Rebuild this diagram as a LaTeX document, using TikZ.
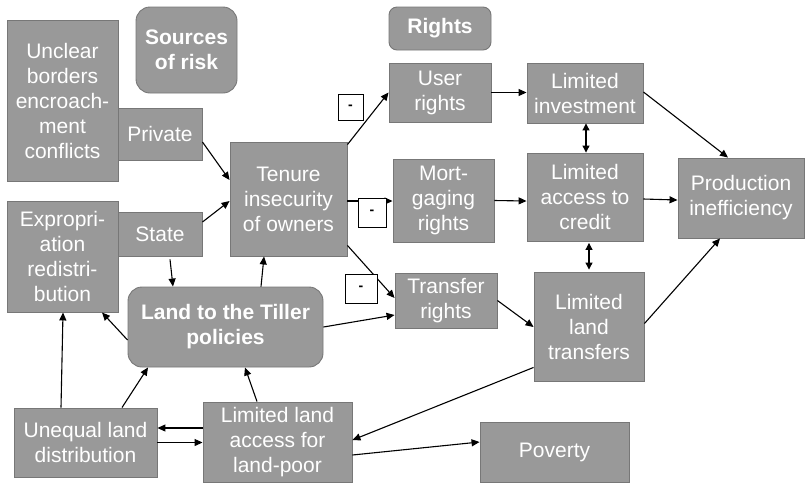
\documentclass[tikz,border=0pt]{standalone}
\usepackage{fontspec}
\setmainfont{Liberation Sans}
\usetikzlibrary{arrows.meta,calc}

\definecolor{boxfill}{HTML}{999999}
\definecolor{boxline}{HTML}{777777}

\tikzset{
  box/.style={draw=boxline, line width=0.9pt, fill=boxfill, text=white,
    align=center, inner sep=0pt, font=\fontsize{21}{25}\selectfont},
  roundbox/.style={box, rounded corners=14pt, font=\fontsize{21}{25}\selectfont\bfseries},
  minusbox/.style={draw=black, line width=0.8pt, fill=white, inner sep=0pt,
    font=\fontsize{14}{14}\selectfont\bfseries},
  arr/.style={line width=1.1pt, -{Triangle[length=8pt,width=7pt]}},
  darr/.style={line width=1.1pt, {Triangle[length=7pt,width=7pt]}-{Triangle[length=7pt,width=7pt]}}
}

\begin{document}
\begin{tikzpicture}[x=1pt,y=-1pt]
\useasboundingbox (0,0) rectangle (805,483);

% left column: sources of risk
\node[box, minimum width=111pt, minimum height=161pt] (unclear) at (62.5,100.5)
  {Unclear\\borders\\encroach-\\ment\\conflicts};
\node[box, minimum width=84pt, minimum height=52pt] (private) at (160,134) {Private};
\node[roundbox, minimum width=101pt, minimum height=86pt] (sources) at (186.5,50) {Sources\\of risk};
\node[box, minimum width=111pt, minimum height=111pt] (expro) at (62.5,256.5)
  {Expropri-\\ation\\redistri-\\bution};
\node[box, minimum width=84pt, minimum height=44pt] (state) at (160,234) {State};
\node[box, minimum width=117pt, minimum height=114pt] (tenure) at (288.5,199)
  {Tenure\\insecurity\\of owners};
\node[roundbox, minimum width=195pt, minimum height=80pt] (tiller) at (225.5,327)
  {Land to the Tiller\\policies};
\node[box, minimum width=143pt, minimum height=69pt] (unequal) at (85.5,442.5)
  {Unequal land\\distribution};
\node[box, minimum width=149pt, minimum height=80pt] (access) at (277.5,442)
  {Limited land\\access for\\land-poor};

% rights
\node[roundbox, rounded corners=8pt, minimum width=102pt, minimum height=43pt] (rights) at (440,28.5) {Rights};
\node[box, minimum width=102pt, minimum height=59pt] (user) at (440,92.5) {User\\rights};
\node[box, minimum width=101pt, minimum height=83pt] (mort) at (443.5,200.5) {Mort-\\gaging\\rights};
\node[box, minimum width=102pt, minimum height=55pt] (transfer) at (446,300.5) {Transfer\\rights};

% consequences
\node[box, minimum width=116pt, minimum height=60pt] (invest) at (585,93) {Limited\\investment};
\node[box, minimum width=116pt, minimum height=88pt] (credit) at (585,197) {Limited\\access to\\credit};
\node[box, minimum width=110pt, minimum height=109pt] (ltransfers) at (589,326.5) {Limited\\land\\transfers};
\node[box, minimum width=126pt, minimum height=80pt] (prod) at (741,198) {Production\\inefficiency};
\node[box, minimum width=149pt, minimum height=60pt] (poverty) at (554.5,452) {Poverty};

% connectors
\draw[arr] ($(private.east)+(0,8)$) -- ($(tenure.west)+(0,-19)$);
\draw[arr] ($(state.east)+(0,-12)$) -- ($(tenure.west)+(0,2)$);
\draw[arr] ($(state.south)+(10,3)$) -- ($(tiller.north)+(-52.5,0)$);
\draw[arr] ($(tiller.north)+(35.5,0)$) -- ($(tenure.south)+(-24.5,0)$);
\draw[arr] ($(tiller.west)+(0,13)$) -- ($(expro.south)+(39.5,0)$);
\draw[arr] ($(unequal.north)+(-24.5,0)$) -- ($(expro.south)+(0.5,0)$);
\draw[arr] ($(unequal.north)+(36.5,0)$) -- ($(tiller.south)+(-77.5,0)$);
\draw[arr] ($(access.north)+(-20.5,0)$) -- ($(tiller.south)+(19.5,0)$);
\draw[arr] ($(access.west)+(0,-14)$) -- ($(unequal.east)+(0,-14.5)$);
\draw[arr] ($(unequal.east)+(0,0)$) -- ($(access.west)+(0,0.5)$);
\draw[arr] (tiller.east) -- ($(transfer.west)+(0,14.5)$);

\draw[arr] ($(tenure.north east)+(0,3)$) -- (user.west);
\draw[arr] ($(tenure.east)+(0,2)$) -- ($(mort.west)+(0,0.5)$);
\draw[arr] ($(tenure.south east)+(0,-11)$) -- ($(transfer.west)+(0,-2.5)$);

\draw[arr] (user.east) -- ($(invest.west)+(0,-0.5)$);
\draw[arr] (mort.east) -- ($(credit.west)+(0,4)$);
\draw[arr] (transfer.east) -- ($(ltransfers.west)+(0,0.5)$);

\draw[darr] ($(invest.south)+(1,0)$) -- ($(credit.north)+(1,0)$);
\draw[darr] ($(credit.south)+(4,1.5)$) -- ($(ltransfers.north)+(0,-2)$);

\draw[arr] ($(invest.east)+(0,-1)$) -- ($(prod.north)+(-13,0)$);
\draw[arr] ($(credit.east)+(0,2)$) -- ($(prod.west)+(0,2)$);
\draw[arr] ($(ltransfers.east)+(0,-3)$) -- ($(prod.south)+(-21,0)$);

\draw[arr] ($(ltransfers.south west)+(0,-14)$) -- ($(access.east)+(0,-2)$);
\draw[arr] ($(access.east)+(0,13)$) -- ($(poverty.west)+(0,-10)$);

% negative signs on the rights links
\node[minusbox, minimum width=25pt, minimum height=26pt] (m1) at (350.5,107) {-};
\node[minusbox, minimum width=28pt, minimum height=29pt] (m2) at (372,212.5) {-};
\node[minusbox, minimum width=32pt, minimum height=29pt] (m3) at (361,288.5) {-};
\end{tikzpicture}
\end{document}
